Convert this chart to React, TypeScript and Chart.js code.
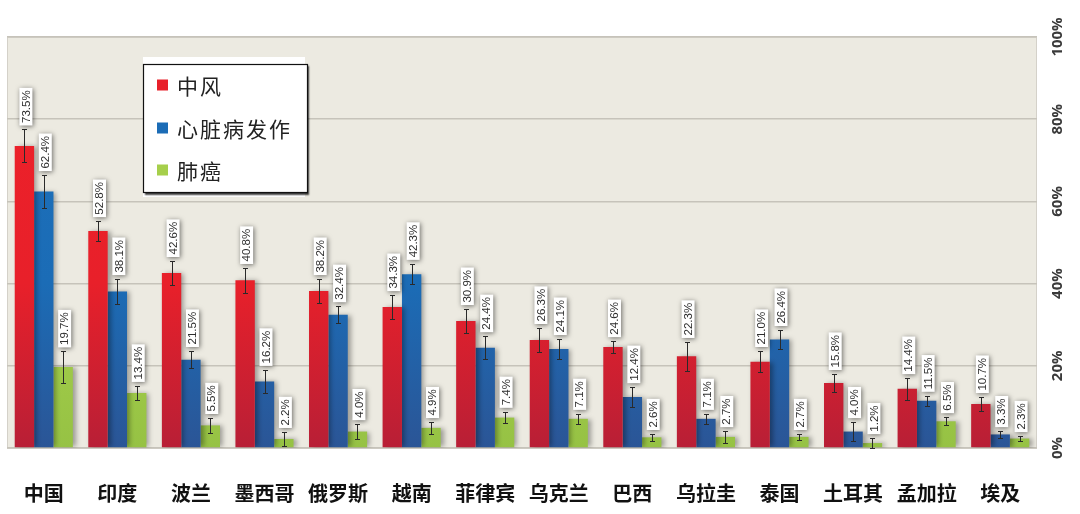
import React, { useEffect, useRef } from "react";
import { Chart, registerables } from "chart.js";
Chart.register(...registerables);

const categories = ["中国", "印度", "波兰", "墨西哥", "俄罗斯", "越南", "菲律宾", "乌克兰", "巴西", "乌拉圭", "泰国", "土耳其", "孟加拉", "埃及"];
const seriesNames = ["中风", "心脏病发作", "肺癌"];
const strokeValues = [73.5, 52.8, 42.6, 40.8, 38.2, 34.3, 30.9, 26.3, 24.6, 22.3, 21.0, 15.8, 14.4, 10.7];
const heartValues = [62.4, 38.1, 21.5, 16.2, 32.4, 42.3, 24.4, 24.1, 12.4, 7.1, 26.4, 4.0, 11.5, 3.3];
const lungValues = [19.7, 13.4, 5.5, 2.2, 4.0, 4.9, 7.4, 7.1, 2.6, 2.7, 2.7, 1.2, 6.5, 2.3];
const strokeErr = [4.0, 2.4, 2.9, 3.0, 2.9, 2.9, 2.9, 2.9, 1.4, 3.5, 2.6, 2.2, 2.6, 1.7];
const heartErr = [4.0, 3.0, 2.1, 2.8, 2.1, 2.5, 2.8, 2.4, 2.4, 1.2, 2.3, 2.3, 1.2, 0.8];
const lungErr = [3.8, 1.7, 1.8, 1.7, 1.8, 1.4, 1.4, 1.2, 0.8, 1.4, 0.7, 1.2, 1.0, 0.6];
const yMin = 0;
const yMax = 100;
const yStep = 20;

const seriesColors = [
  ["#EE2129", "#E8202A", "#B81F36"],
  ["#1D71BB", "#1B6CB6", "#2B5596"],
  ["#A9D14E", "#A6CF4B", "#96C244"],
];
const legendMarkerColors = ["#E8202A", "#1B6CB6", "#A6CF4B"];

export default function App() {
  const ref = useRef<HTMLCanvasElement>(null);

  useEffect(() => {
    const canvas = ref.current!;
    const errs = [strokeErr, heartErr, lungErr];
    const values = [strokeValues, heartValues, lungValues];

    const makeBg = (idx: number) => (c: any) => {
      const chart = c.chart;
      const a = chart.chartArea;
      const cols = seriesColors[idx];
      if (!a) return cols[1];
      const g = chart.ctx.createLinearGradient(0, a.top, 0, a.bottom);
      g.addColorStop(0, cols[0]);
      g.addColorStop(0.6, cols[1]);
      g.addColorStop(1, cols[2]);
      return g;
    };

    const bgPlugin = {
      id: "plotBg",
      beforeDraw(chart: any) {
        const { ctx, chartArea: a } = chart;
        ctx.save();
        ctx.fillStyle = "#FFFFFF";
        ctx.fillRect(0, 0, chart.width, chart.height);
        ctx.fillStyle = "#ECEAE1";
        ctx.fillRect(a.left, a.top, a.right - a.left, a.bottom - a.top);
        ctx.strokeStyle = "#D4D1C9";
        ctx.lineWidth = 1;
        ctx.strokeRect(a.left + 0.5, a.top + 0.5, a.right - a.left - 1, a.bottom - a.top);
        ctx.restore();
      },
    };

    const overlayPlugin = {
      id: "overlay",
      beforeDatasetsDraw(chart: any) {
        const ctx = chart.ctx;
        ctx.save();
        ctx.shadowColor = "rgba(0,0,0,0.35)";
        ctx.shadowBlur = 5;
        ctx.shadowOffsetX = 3;
        ctx.shadowOffsetY = 0;
      },
      afterDatasetsDraw(chart: any) {
        const ctx = chart.ctx;
        ctx.restore();
        const y = chart.scales.y;
        // error bars
        ctx.save();
        ctx.strokeStyle = "#2A2A2A";
        ctx.lineWidth = 1;
        chart.data.datasets.forEach((ds: any, di: number) => {
          const meta = chart.getDatasetMeta(di);
          meta.data.forEach((bar: any, i: number) => {
            const v = values[di][i];
            const e = errs[di][i];
            const yt = Math.round(y.getPixelForValue(v + e)) + 0.5;
            const yb = Math.round(y.getPixelForValue(Math.max(0, v - e))) + 0.5;
            const x = Math.round(bar.x) + 0.5;
            ctx.beginPath();
            ctx.moveTo(x, yt);
            ctx.lineTo(x, yb);
            ctx.moveTo(x - 2.5, yt);
            ctx.lineTo(x + 2.5, yt);
            ctx.moveTo(x - 2.5, yb);
            ctx.lineTo(x + 2.5, yb);
            ctx.stroke();
          });
        });
        ctx.restore();
        // value labels
        ctx.save();
        ctx.font = "11.5px 'Liberation Sans', Arial, sans-serif";
        chart.data.datasets.forEach((ds: any, di: number) => {
          const meta = chart.getDatasetMeta(di);
          meta.data.forEach((bar: any, i: number) => {
            const v = values[di][i];
            const e = errs[di][i];
            const txt = v.toFixed(1) + "%";
            const tw = ctx.measureText(txt).width;
            const top = y.getPixelForValue(v + e) - 4;
            const cx = bar.x + 1.5;
            const bw = 13;
            const bh = tw + 5;
            ctx.save();
            ctx.shadowColor = "rgba(0,0,0,0.55)";
            ctx.shadowBlur = 5;
            ctx.shadowOffsetX = 1;
            ctx.shadowOffsetY = 1;
            ctx.fillStyle = "#FFFFFF";
            ctx.fillRect(cx - bw / 2, top - bh, bw, bh);
            ctx.restore();
            ctx.save();
            ctx.translate(cx, top - bh / 2);
            ctx.rotate(-Math.PI / 2);
            ctx.fillStyle = "#2E2E2E";
            ctx.textAlign = "center";
            ctx.textBaseline = "middle";
            ctx.fillText(txt, 0, 0.5);
            ctx.restore();
          });
        });
        ctx.restore();
        // right tick labels
        ctx.save();
        ctx.font = "bold 15px 'Open Sans', sans-serif";
        ctx.fillStyle = "#3A3A3A";
        ctx.textAlign = "center";
        ctx.textBaseline = "middle";
        y.ticks.forEach((t: any) => {
          const py = y.getPixelForValue(t.value);
          ctx.save();
          ctx.translate(chart.chartArea.right + 21, py);
          ctx.rotate(-Math.PI / 2);
          ctx.fillText(t.label, 0, 0);
          ctx.restore();
        });
        ctx.restore();
        // legend
        ctx.save();
        ctx.fillStyle = "#FFFFFF";
        ctx.fillRect(143, 57, 162, 140);
        ctx.save();
        ctx.shadowColor = "rgba(0,0,0,0.75)";
        ctx.shadowBlur = 1.5;
        ctx.shadowOffsetX = 2;
        ctx.shadowOffsetY = 2;
        ctx.fillStyle = "#FFFFFF";
        ctx.fillRect(143, 64, 164, 129);
        ctx.restore();
        ctx.strokeStyle = "#111111";
        ctx.lineWidth = 1.2;
        ctx.strokeRect(143.5, 64.5, 164, 128);
        const rows = [85, 128, 170];
        ctx.font = "21px 'Noto Sans CJK SC', sans-serif";
        (ctx as any).letterSpacing = "2px";
        ctx.textBaseline = "middle";
        ctx.textAlign = "left";
        chart.data.datasets.forEach((ds: any, di: number) => {
          ctx.fillStyle = legendMarkerColors[di];
          ctx.fillRect(157, rows[di] - 5.5, 11, 11);
          ctx.fillStyle = "#222222";
          ctx.fillText(ds.label, 177, rows[di] + 1);
        });
        ctx.restore();
      },
    };

    const chart = new Chart(canvas, {
      type: "bar",
      data: {
        labels: categories,
        datasets: [
          { label: seriesNames[0], data: strokeValues, backgroundColor: makeBg(0) },
          { label: seriesNames[1], data: heartValues, backgroundColor: makeBg(1) },
          { label: seriesNames[2], data: lungValues, backgroundColor: makeBg(2) },
        ],
      },
      options: {
        animation: false,
        responsive: true,
        maintainAspectRatio: false,
        layout: { padding: { left: 7, top: 37, right: 0, bottom: 0 } },
        datasets: { bar: { categoryPercentage: 0.79, barPercentage: 1.0, borderWidth: 0 } } as any,
        plugins: { legend: { display: false }, tooltip: { enabled: false } },
        scales: {
          x: {
            grid: { display: false, drawTicks: false },
            border: { display: false },
            ticks: {
              padding: 33,
              color: "#111111",
              font: { family: "'Noto Sans CJK SC', sans-serif", size: 20, weight: "bold" },
              maxRotation: 0,
              autoSkip: false,
            },
            afterFit: (s: any) => { s.height = 66; s.paddingLeft = 0; s.paddingRight = 0; },
          },
          y: {
            position: "right",
            min: yMin,
            max: yMax,
            grid: { color: "#C6C3BA", lineWidth: 1.5, drawTicks: false },
            border: { display: false },
            ticks: { stepSize: yStep, display: false, callback: (v: any) => v + "%" },
            afterFit: (s: any) => { s.width = 43; s.paddingTop = 0; s.paddingBottom = 0; },
          },
        },
      },
      plugins: [bgPlugin, overlayPlugin],
    });
    return () => chart.destroy();
  }, []);

  return (
    <div style={{ position: "fixed", left: 0, top: 0, width: 1080, height: 514, background: "#FFFFFF" }}>
      <canvas ref={ref} />
    </div>
  );
}
